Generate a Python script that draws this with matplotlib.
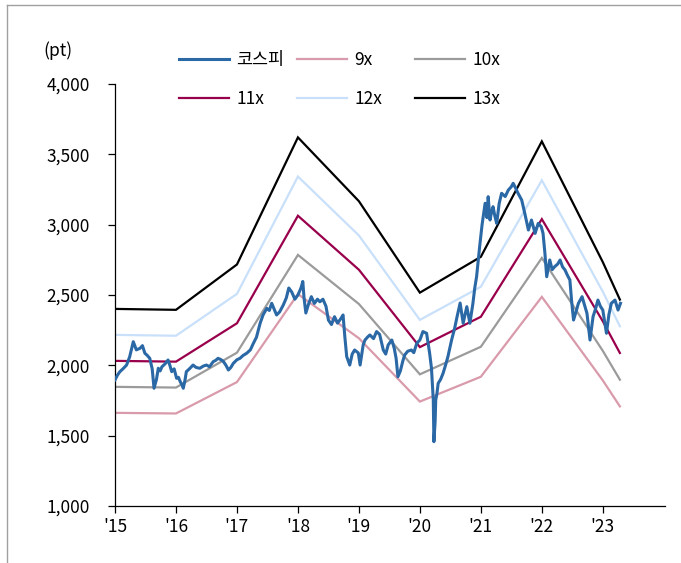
import matplotlib
matplotlib.use("Agg")
import matplotlib.pyplot as plt
from matplotlib.lines import Line2D
import numpy as np

plt.rcParams['font.family'] = ['Noto Sans CJK KR', 'DejaVu Sans']

# Trailing-earnings base (pt per 1x multiple) at each year start and latest point
eps_t = [2015.0, 2016.0, 2017.0, 2018.0, 2019.0, 2020.0, 2021.0, 2022.0, 2023.0, 2023.28]
eps_v = [184.7, 184.2, 209.0, 278.5, 243.6, 193.6, 213.2, 276.3, 210.3, 189.8]

multiples = [9, 10, 11, 12, 13]
band_labels = ['9x', '10x', '11x', '12x', '13x']
band_colors = ['#D99AAB', '#9B9B9B', '#99004C', '#C9E0FA', '#000000']

# KOSPI index level (decimal year, pt)
kospi_t = [2015.00, 2015.04, 2015.08, 2015.13, 2015.19, 2015.24, 2015.30, 2015.35, 2015.41,
           2015.45, 2015.49, 2015.53, 2015.57, 2015.61, 2015.64, 2015.68, 2015.71, 2015.74,
           2015.77, 2015.82, 2015.87, 2015.90, 2015.93, 2015.97, 2016.01, 2016.04, 2016.07,
           2016.10, 2016.12, 2016.15, 2016.17, 2016.22, 2016.28, 2016.33, 2016.39, 2016.45,
           2016.50, 2016.55, 2016.61, 2016.65, 2016.69, 2016.74, 2016.78, 2016.82, 2016.86,
           2016.90, 2016.94, 2017.00, 2017.05, 2017.10, 2017.16, 2017.22, 2017.27, 2017.32,
           2017.38, 2017.43, 2017.49, 2017.53, 2017.57, 2017.61, 2017.65, 2017.70, 2017.76,
           2017.81, 2017.85, 2017.90, 2017.95, 2018.00, 2018.05, 2018.08, 2018.10, 2018.13,
           2018.17, 2018.22, 2018.27, 2018.32, 2018.36, 2018.41, 2018.46, 2018.50, 2018.55,
           2018.60, 2018.65, 2018.70, 2018.74, 2018.77, 2018.80, 2018.85, 2018.89, 2018.93,
           2018.99, 2019.02, 2019.07, 2019.10, 2019.14, 2019.18, 2019.24, 2019.29, 2019.34,
           2019.40, 2019.44, 2019.48, 2019.54, 2019.58, 2019.61, 2019.64, 2019.68, 2019.72,
           2019.75, 2019.80, 2019.86, 2019.90, 2019.95, 2020.00, 2020.05, 2020.11, 2020.16,
           2020.19, 2020.22, 2020.23, 2020.25, 2020.26, 2020.28, 2020.30, 2020.34, 2020.38,
           2020.42, 2020.46, 2020.52, 2020.57, 2020.61, 2020.66, 2020.71, 2020.74, 2020.77,
           2020.82, 2020.87, 2020.90, 2020.93, 2020.96, 2020.98, 2021.02, 2021.07, 2021.10,
           2021.12, 2021.15, 2021.18, 2021.20, 2021.23, 2021.26, 2021.30, 2021.34, 2021.40,
           2021.45, 2021.50, 2021.53, 2021.57, 2021.61, 2021.67, 2021.72, 2021.75, 2021.78,
           2021.83, 2021.89, 2021.94, 2021.99, 2022.02, 2022.05, 2022.08, 2022.13, 2022.17,
           2022.21, 2022.26, 2022.30, 2022.34, 2022.38, 2022.42, 2022.46, 2022.49, 2022.52,
           2022.56, 2022.60, 2022.66, 2022.70, 2022.74, 2022.79, 2022.84, 2022.88, 2022.92,
           2022.96, 2023.00, 2023.06, 2023.10, 2023.14, 2023.20, 2023.25, 2023.29]
kospi_v = [1896, 1930, 1955, 1975, 2002, 2060, 2168, 2110, 2121, 2140, 2086, 2070, 2050,
           1975, 1837, 1900, 1979, 1960, 1990, 2010, 2038, 2000, 1955, 1975, 1908, 1915,
           1884, 1860, 1837, 1900, 1955, 1975, 2002, 1985, 1979, 1995, 2002, 1990, 2026,
           2035, 2050, 2040, 2026, 2000, 1967, 1985, 2014, 2040, 2050, 2070, 2086, 2110,
           2157, 2200, 2299, 2360, 2405, 2390, 2441, 2400, 2358, 2380, 2429, 2480, 2550,
           2520, 2470, 2500, 2550, 2596, 2480, 2372, 2430, 2488, 2440, 2470, 2452, 2470,
           2420, 2322, 2290, 2346, 2300, 2330, 2358, 2200, 2062, 2002, 2080, 2109, 2088,
           2002, 2145, 2180, 2200, 2216, 2190, 2240, 2220, 2109, 2080, 2145, 2180, 2120,
           2050, 1919, 1960, 2030, 2073, 2100, 2109, 2090, 2157, 2180, 2240, 2228, 2086,
           1980, 1753, 1457, 1600, 1753, 1800, 1872, 1900, 1943, 2000, 2062, 2180, 2263,
           2346, 2443, 2299, 2360, 2417, 2299, 2441, 2550, 2630, 2760, 2843, 3000, 3152,
           3050, 3199, 3033, 3100, 3128, 3060, 3009, 3150, 3223, 3200, 3246, 3270, 3294,
           3260, 3223, 3175, 3081, 3020, 2962, 3033, 2938, 3009, 2986, 2938, 2800, 2630,
           2749, 2680, 2701, 2720, 2749, 2700, 2678, 2640, 2607, 2450, 2322, 2380, 2441,
           2488, 2430, 2370, 2180, 2346, 2400, 2464, 2420, 2393, 2228, 2360, 2441, 2464,
           2393, 2441]

year_ticks = [2015, 2016, 2017, 2018, 2019, 2020, 2021, 2022, 2023]
year_labels = ["'15", "'16", "'17", "'18", "'19", "'20", "'21", "'22", "'23"]
y_ticks = [1000, 1500, 2000, 2500, 3000, 3500, 4000]

W, H = 681, 563
fig = plt.figure(figsize=(W / 100, H / 100), dpi=100)
ax = fig.add_axes([115 / W, 1 - 506 / H, 550 / W, 422 / H])

handles = {}
eps_arr = np.array(eps_v)
for m, lab, col in zip(multiples, band_labels, band_colors):
    h, = ax.plot(eps_t, eps_arr * m, color=col, lw=1.6, solid_joinstyle='miter', zorder=2)
    handles[lab] = h
h_k, = ax.plot(kospi_t, kospi_v, color='#2A68A6', lw=2.2, zorder=3)
handles['코스피'] = h_k

ax.set_xlim(2015, 2024.02)
ax.set_ylim(1000, 4000)
ax.set_xticks(year_ticks)
ax.set_xticklabels(year_labels)
ax.set_yticks(y_ticks)
ax.set_yticklabels([f"{v:,}" for v in y_ticks])
for s in ['top', 'right']:
    ax.spines[s].set_visible(False)
for s in ['left', 'bottom']:
    ax.spines[s].set_linewidth(0.9)
    ax.spines[s].set_color('black')
ax.tick_params(axis='y', direction='out', length=5, width=0.9, pad=13, labelsize=12.5)
ax.tick_params(axis='x', direction='out', length=5, width=0.9, pad=4, labelsize=12.5)

fig.text(58 / W, 1 - 51 / H, '(pt)', ha='center', va='center', fontsize=12.5)

# Legend laid out as three columns of two rows
columns = [['코스피', '11x'], ['9x', '12x'], ['10x', '13x']]
col_x = [179, 297, 415]
for cols, x in zip(columns, col_x):
    leg = fig.legend([handles[c] for c in cols], cols, loc='upper left',
                     bbox_to_anchor=(x / W, 1 - 51 / H), frameon=False,
                     borderpad=0, borderaxespad=0, handlelength=2.9,
                     handletextpad=0.4, labelspacing=1.2, fontsize=12.5)

# Thin gray frame along the top and left edges
fig.add_artist(Line2D([7 / W, 1], [1 - 5 / H, 1 - 5 / H], transform=fig.transFigure,
                      color='#A0A0A0', lw=1.0))
fig.add_artist(Line2D([7 / W, 7 / W], [0, 1 - 5 / H], transform=fig.transFigure,
                      color='#A0A0A0', lw=1.0))

fig.savefig('out.png', dpi=100)
